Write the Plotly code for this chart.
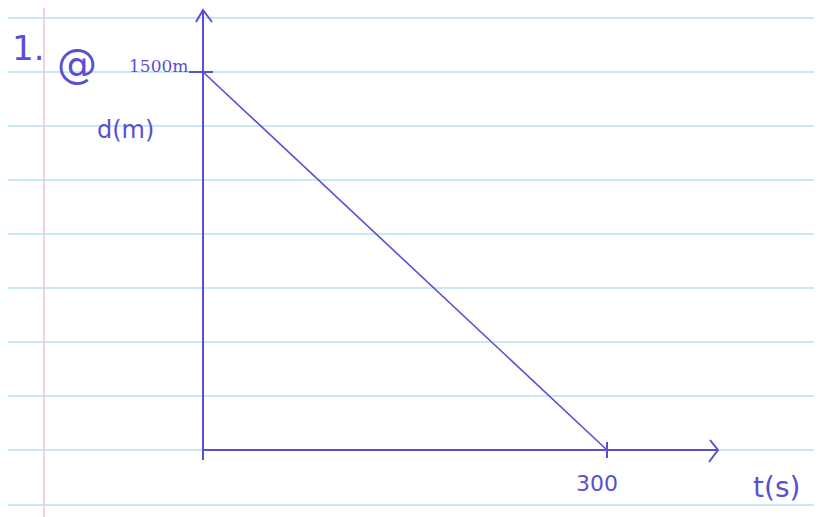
import plotly.graph_objects as go

# data
t_vals = [0, 300]
d_vals = [1500, 0]
x_tick_labels = ["300"]
y_tick_labels = ["1500m"]
x_title = "t(s)"
y_title = "d(m)"
problem_label = "1."

VW, VH = 822, 517
OFF = 8  # page body margin
W, H = VW - OFF, VH - OFF
PEN = "#5a4fd2"
RULE = "#b3e2f0"
MARGIN = "#f4c2d6"

# pixel calibration (viewport pixels): t=0 -> x 203, t=300 -> x 607 ; d=0 -> y 450, d=1500 -> y 72
X0, X300 = 203 - OFF, 607 - OFF
Y0, Y1500 = 450 - OFF, 72 - OFF
sx = (X300 - X0) / 300.0
sy = (Y0 - Y1500) / 1500.0
x_range = [-X0 / sx, (W - X0) / sx]
y_range = [-(H - Y0) / sy, 1500 + Y1500 / sy]

def py(p):  # viewport pixel y -> paper y
    return 1 - (p - OFF) / H

def pxp(p):
    return (p - OFF) / W

fig = go.Figure()

# notebook rules
shapes = []
for yy in [18, 72, 126, 180, 234, 288, 342, 396, 450, 505]:
    shapes.append(dict(type="line", xref="paper", yref="paper", x0=0, x1=1,
                       y0=py(yy), y1=py(yy), line=dict(color=RULE, width=1.5), layer="below"))
shapes.append(dict(type="line", xref="paper", yref="paper", x0=pxp(44), x1=pxp(44),
                   y0=0, y1=1, line=dict(color=MARGIN, width=1.5), layer="below"))

# axes (pen)
y_top = 1500 + (72 - 10) / sy
x_end = (718 - 203) / sx
axis_style = dict(mode="lines", line=dict(color=PEN, width=2), hoverinfo="skip", showlegend=False)
fig.add_trace(go.Scatter(x=[0, 0], y=[-10 / sy, y_top], **axis_style))
fig.add_trace(go.Scatter(x=[0, x_end], y=[0, 0], **axis_style))
# arrowheads
fig.add_trace(go.Scatter(x=[-7 / sx, 0, 9 / sx], y=[y_top - 12 / sy, y_top, y_top - 12 / sy], **axis_style))
fig.add_trace(go.Scatter(x=[x_end - 8 / sx, x_end, x_end - 9 / sx], y=[10 / sy, 0, -12 / sy], **axis_style))
# ticks
fig.add_trace(go.Scatter(x=[t_vals[1], t_vals[1]], y=[8 / sy, -8 / sy], **axis_style))
fig.add_trace(go.Scatter(x=[-14 / sx, 10 / sx], y=[d_vals[0], d_vals[0]], **axis_style))

# data line
fig.add_trace(go.Scatter(x=t_vals, y=d_vals, mode="lines",
                         line=dict(color=PEN, width=1.6), showlegend=False))

annotations = [
    dict(xref="paper", yref="paper", x=pxp(10), y=py(48), text=problem_label, xanchor="left",
         font=dict(size=34, color=PEN, family="DejaVu Sans")),
    dict(xref="paper", yref="paper", x=pxp(77), y=py(64), text="@",
         font=dict(size=40, color=PEN, family="DejaVu Sans")),
    dict(xref="x", yref="y", x=-45 / sx, y=d_vals[0] + 6 / sy, text=y_tick_labels[0],
         font=dict(size=17, color=PEN, family="DejaVu Serif")),
    dict(xref="paper", yref="paper", x=pxp(125), y=py(130), text=y_title,
         font=dict(size=24, color=PEN, family="DejaVu Sans")),
    dict(xref="x", yref="y", x=t_vals[1] - 10 / sx, y=-33 / sy, text=x_tick_labels[0],
         font=dict(size=22, color=PEN, family="DejaVu Sans")),
    dict(xref="paper", yref="paper", x=pxp(776), y=py(487), text=x_title,
         font=dict(size=28, color=PEN, family="DejaVu Sans")),
]
for a in annotations:
    a.setdefault("xanchor", "center")
    a.update(showarrow=False, yanchor="middle")

fig.update_layout(
    width=W, height=H,
    margin=dict(l=0, r=0, t=0, b=0),
    paper_bgcolor="white", plot_bgcolor="white",
    xaxis=dict(range=x_range, visible=False, fixedrange=True),
    yaxis=dict(range=y_range, visible=False, fixedrange=True),
    shapes=shapes, annotations=annotations,
)

fig.write_html("out.html")
